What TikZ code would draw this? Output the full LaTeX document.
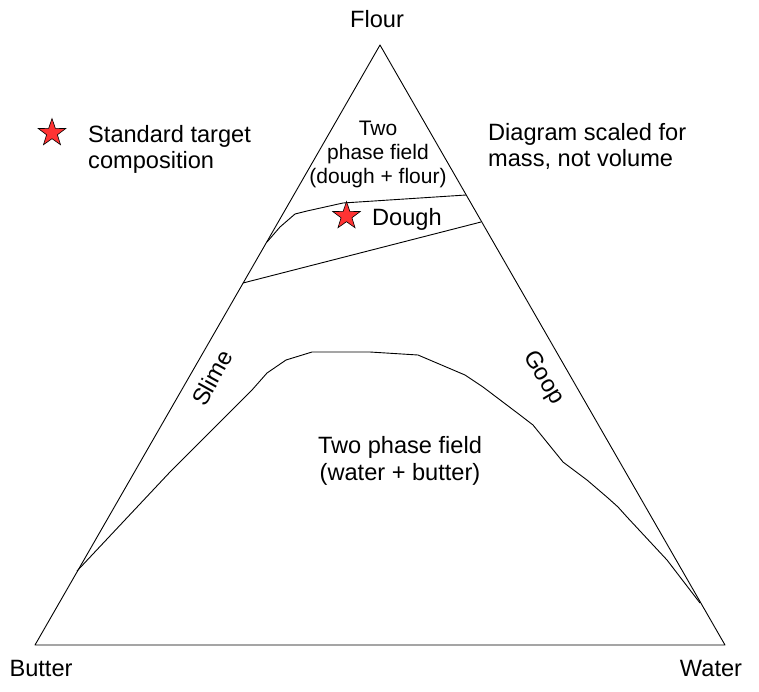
\documentclass[tikz,border=0pt]{standalone}
\usepackage{fontspec}
\setmainfont{Liberation Sans}
\usetikzlibrary{shapes.geometric}
\begin{document}
\begin{tikzpicture}[x=1pt,y=-1pt,
  edge/.style={line width=0.9pt,line join=round},
  lbl/.style={inner sep=0pt,font=\fontsize{23.6}{26.5}\selectfont},
  small/.style={inner sep=0pt,font=\fontsize{21}{24.5}\selectfont,align=center},
  starmark/.style={star,star points=5,star point ratio=2.55,minimum size=29pt,inner sep=0pt,fill=red!80!white,draw=black,line width=0.6pt}]
\useasboundingbox (0,0) rectangle (759,691);
% triangle
\coordinate (F) at (380,45);
\coordinate (B) at (35,645);
\coordinate (W) at (725,645);
\draw[edge] (F) -- (B) -- (W) -- cycle;
% lower two-phase boundary
\coordinate (l0) at (77,571);
\coordinate (l1) at (700,603);
\draw[edge] (l0) -- (170,472) -- (200,442) -- (225,417) -- (252,390) -- (267,373) -- (286,360) -- (312,352) -- (370,352) -- (418,355) -- (465,375) -- (483,387) -- (520,415) -- (533,425) -- (563,462) -- (587,480) -- (608,498) -- (618,507) -- (627,517) -- (667,560) -- (l1);
% dough region boundaries
\coordinate (u0) at (267,242);
\coordinate (u1) at (466,195);
\draw[edge] (u0) -- (280,227) -- (295,214) -- (307,211) -- (343,203) -- (u1);
\coordinate (d0) at (243,283);
\coordinate (d1) at (481,222);
\draw[edge] (d0) -- (d1);
% labels
\node[lbl,anchor=base] (flour) at (377,27.5) {Flour};
\node[lbl,anchor=base] (butter) at (41,676) {Butter};
\node[lbl,anchor=base] (water) at (711,676) {Water};
\node[starmark] (legstar) at (52,133) {};
\node[lbl,anchor=base west] (leg1) at (88,142) {Standard target};
\node[lbl,anchor=base west] (leg2) at (88,168.5) {composition};
\node[lbl,anchor=base west] (note1) at (488,140) {Diagram scaled for};
\node[lbl,anchor=base west] (note2) at (488,166.5) {mass, not volume};
\node[small,anchor=base] (in1) at (378,135.7) {Two};
\node[small,anchor=base] (in2) at (378,159.3) {phase field};
\node[small,anchor=base] (in3) at (378,183.3) {(dough + flour)};
\node[starmark] (doughstar) at (346.5,216) {};
\node[lbl,anchor=base west] (dough) at (372,225) {Dough};
\node[lbl,rotate=61] (slime) at (212,378) {Slime};
\node[lbl,rotate=-59] (goop) at (543,378) {Goop};
\node[lbl,anchor=base] (tp1) at (400,453) {Two phase field};
\node[lbl,anchor=base] (tp2) at (400,480) {(water + butter)};
\end{tikzpicture}
\end{document}
